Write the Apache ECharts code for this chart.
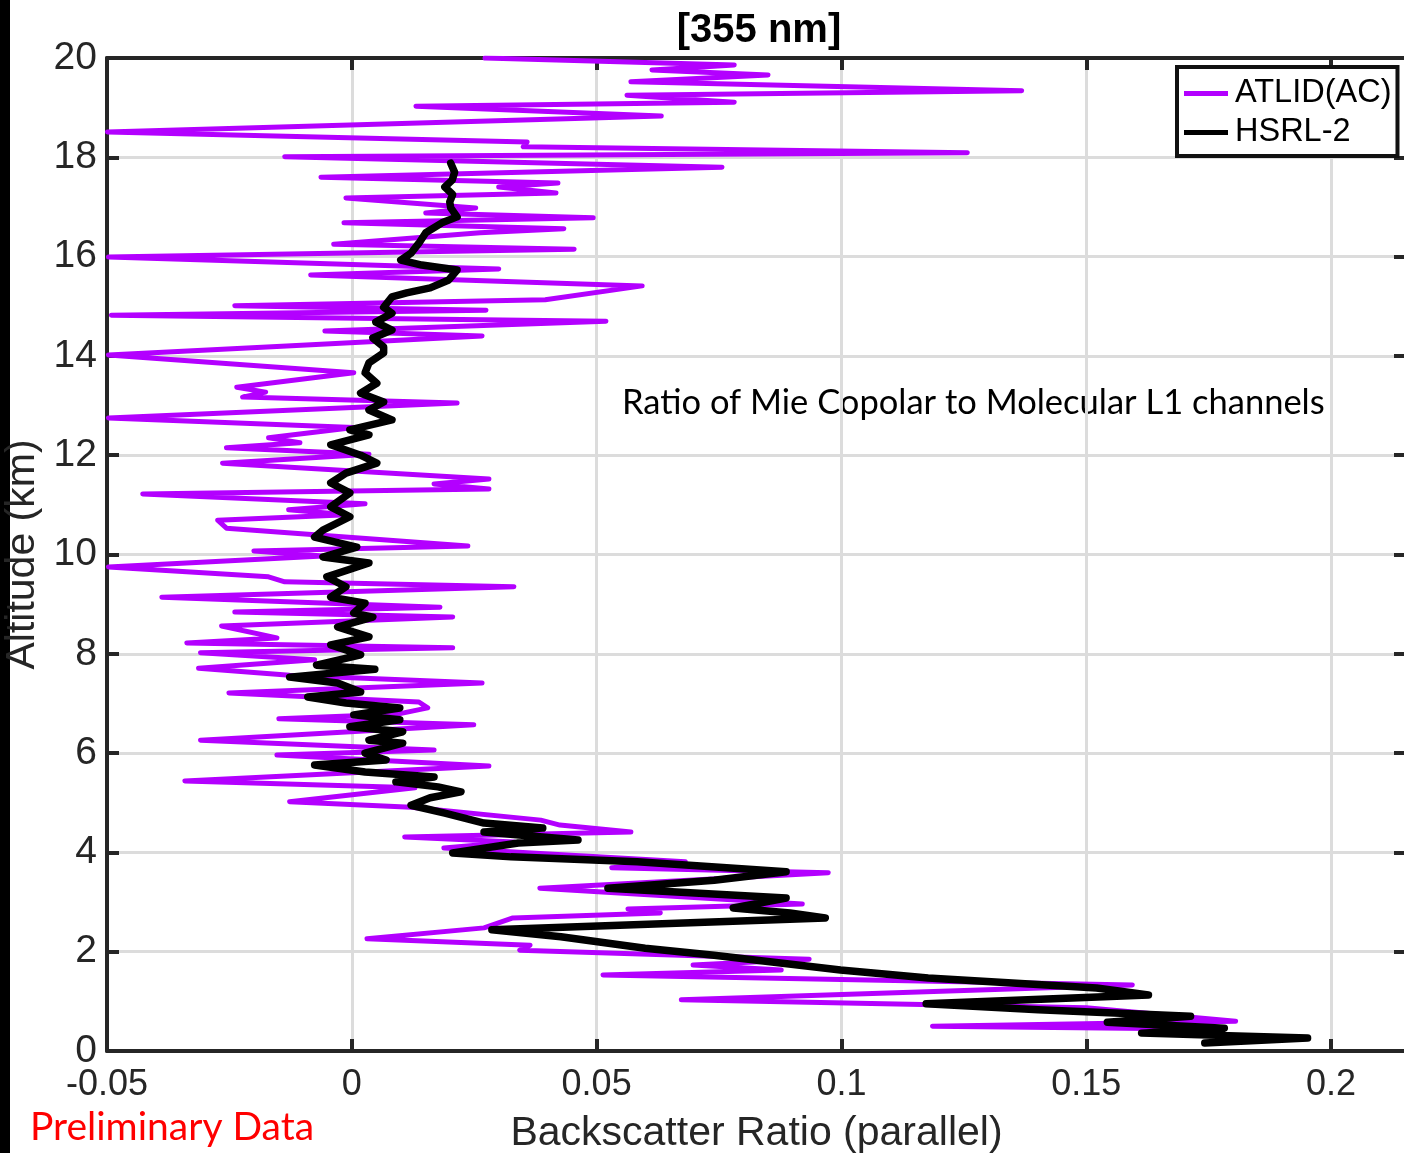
<!DOCTYPE html>
<html>
<head>
<meta charset="utf-8">
<script src="https://cdn.jsdelivr.net/npm/echarts@6/dist/echarts.min.js"></script>
<style>
html,body{margin:0;padding:0;background:#fff;overflow:hidden;}
#chart{width:1404px;height:1153px;}
</style>
</head>
<body>
<div id="chart"></div>
<script>
// ATLID(AC) profile: altitude (km) and backscatter ratio (parallel)
var atlidAlt = [20.0,19.86,19.76,19.66,19.52,19.34,19.25,19.11,19.03,18.83,18.51,18.31,18.21,18.09,18.01,17.80,17.60,17.48,17.40,17.28,17.18,16.98,16.88,16.78,16.68,16.56,16.48,16.25,16.15,15.99,15.75,15.63,15.41,15.13,15.01,14.92,14.82,14.70,14.50,14.40,14.20,14.02,13.66,13.37,13.27,13.17,13.05,12.75,12.56,12.35,12.25,12.15,12.02,11.84,11.52,11.42,11.32,11.22,11.02,10.90,10.80,10.69,10.53,10.17,10.07,9.97,9.75,9.55,9.45,9.35,9.14,8.94,8.84,8.74,8.56,8.32,8.22,8.12,8.02,7.88,7.71,7.57,7.41,7.21,7.03,6.91,6.79,6.69,6.57,6.26,6.06,5.96,5.74,5.44,5.30,5.02,4.91,4.65,4.55,4.41,4.31,4.21,4.09,3.81,3.69,3.59,3.28,2.96,2.86,2.78,2.68,2.48,2.26,2.13,2.03,1.85,1.73,1.63,1.53,1.33,1.03,0.87,0.60,0.50,0.44,0.36];
var atlidRatio = [0.0272,0.0781,0.0613,0.0850,0.0570,0.1368,0.0562,0.0781,0.0131,0.0632,-0.0499,0.0358,0.0350,0.1257,-0.0137,0.0756,-0.0063,0.0421,0.0300,0.0417,-0.0012,0.0253,0.0151,0.0493,-0.0016,0.0433,0.0262,-0.0037,0.0454,-0.0497,0.0300,-0.0084,0.0593,0.0395,-0.0239,0.0274,-0.0491,0.0519,-0.0055,0.0266,-0.0133,-0.0497,0.0004,-0.0235,-0.0176,-0.0223,0.0215,-0.0497,0.0004,-0.0170,-0.0106,-0.0256,0.0035,-0.0264,0.0280,0.0168,0.0280,-0.0427,0.0027,-0.0129,-0.0010,-0.0274,-0.0256,0.0237,-0.0200,-0.0059,-0.0497,-0.0170,-0.0137,0.0331,-0.0388,0.0180,-0.0239,0.0206,-0.0266,-0.0153,-0.0337,0.0206,-0.0309,-0.0076,-0.0313,-0.0127,0.0266,-0.0251,0.0137,0.0155,0.0096,-0.0149,0.0249,-0.0309,0.0168,-0.0153,0.0280,-0.0341,0.0129,-0.0127,0.0121,0.0386,0.0425,0.0570,0.0108,0.0331,0.0188,0.0681,0.0531,0.0973,0.0384,0.0920,0.0564,0.0630,0.0329,0.0270,0.0031,0.0364,0.0343,0.0934,0.0697,0.0877,0.0513,0.1594,0.0673,0.1500,0.1805,0.1186,0.1778,0.1760];

// HSRL-2 profile: altitude (km) and backscatter ratio (parallel)
var hsrlAlt = [17.88,17.85,17.70,17.54,17.40,17.25,17.10,16.98,16.80,16.68,16.48,16.27,16.07,15.93,15.83,15.73,15.53,15.37,15.27,15.19,14.98,14.86,14.68,14.52,14.36,14.18,14.06,13.86,13.66,13.45,13.25,13.07,12.91,12.71,12.51,12.41,12.21,12.00,11.84,11.64,11.44,11.24,10.96,10.76,10.49,10.35,10.15,9.95,9.83,9.55,9.35,9.14,9.02,8.82,8.74,8.54,8.34,8.18,7.98,7.77,7.69,7.53,7.41,7.23,7.13,7.01,6.91,6.77,6.67,6.53,6.43,6.26,6.20,6.00,5.86,5.76,5.62,5.52,5.42,5.32,5.22,5.10,4.95,4.79,4.59,4.49,4.41,4.25,4.19,3.99,3.91,3.81,3.61,3.44,3.28,3.08,2.88,2.78,2.68,2.44,2.30,2.07,1.93,1.63,1.47,1.27,1.13,0.95,0.83,0.70,0.58,0.46,0.36,0.26,0.16];
var hsrlRatio = [0.0202,0.0198,0.0210,0.0205,0.0190,0.0206,0.0200,0.0202,0.0215,0.0184,0.0151,0.0137,0.0121,0.0100,0.0143,0.0215,0.0198,0.0160,0.0112,0.0082,0.0065,0.0082,0.0049,0.0082,0.0043,0.0065,0.0065,0.0035,0.0027,0.0051,0.0018,0.0065,0.0035,0.0082,-0.0004,0.0035,-0.0043,0.0018,0.0051,-0.0012,-0.0043,-0.0004,-0.0043,-0.0004,-0.0059,-0.0076,0.0010,-0.0059,0.0035,-0.0051,-0.0012,-0.0043,0.0027,0.0004,0.0043,-0.0029,0.0035,-0.0043,0.0018,-0.0072,0.0047,-0.0127,-0.0029,0.0018,-0.0090,-0.0012,0.0098,0.0004,0.0098,-0.0004,0.0104,0.0035,0.0104,0.0027,0.0070,-0.0076,0.0027,0.0168,0.0090,0.0176,0.0223,0.0160,0.0121,0.0190,0.0270,0.0390,0.0270,0.0462,0.0340,0.0206,0.0325,0.0583,0.0887,0.0740,0.0523,0.0887,0.0779,0.0895,0.0967,0.0286,0.0427,0.0599,0.0740,0.0998,0.1177,0.1521,0.1627,0.1173,0.1402,0.1713,0.1543,0.1782,0.1613,0.1952,0.1742];

var xTicks = [-0.05, 0, 0.05, 0.1, 0.15, 0.2];
var yTicks = [0, 2, 4, 6, 8, 10, 12, 14, 16, 18, 20];

function pairs(xs, ys){ return ys.map(function(y,i){ return [xs[i], y]; }); }

var axisColor = '#262626';
var font = 'Liberation Sans, Arial, Helvetica, sans-serif';
var chart = echarts.init(document.getElementById('chart'), null, {renderer:'canvas', width:1404, height:1153});
chart.setOption({
  animation:false,
  backgroundColor:'#ffffff',
  title:{
    text:'[355 nm]', left:754, top:6, textAlign:'center',
    textStyle:{fontFamily:font, fontWeight:'bold', fontSize:40, color:'#000'}
  },
  legend:{
    orient:'vertical', left:1177, top:67,
    backgroundColor:'#fff', borderColor:'#111', borderWidth:4,
    padding:[10,6,7,7], itemGap:6, itemWidth:44, itemHeight:5, icon:'rect',
    textStyle:{fontFamily:font, fontSize:32.5, color:'#000', padding:[0,0,0,2]},
    data:['ATLID(AC)','HSRL-2']
  },
  grid:{left:107, right:-2, top:58, bottom:102, containLabel:false, outerBoundsMode:'none'},
  xAxis:[{
    type:'value', min:-0.05, max:0.2153, interval:0.05,
    name:'Backscatter Ratio (parallel)', nameLocation:'middle', nameGap:62,
    nameTextStyle:{fontFamily:font, fontSize:41, color:axisColor},
    axisLine:{show:true, onZero:false, lineStyle:{color:axisColor, width:4}},
    axisTick:{show:true, inside:true, length:12, lineStyle:{color:axisColor, width:4}},
    axisLabel:{fontFamily:font, fontSize:36, color:axisColor, margin:16, showMaxLabel:false,
      formatter:function(v){ var r = Math.round(v*100)/100; return xTicks.indexOf(r) >= 0 ? String(r) : ''; }},
    splitLine:{show:true, lineStyle:{color:'#dcdcdc', width:3}}
  },{
    type:'value', position:'top', min:-0.05, max:0.2153, interval:0.05,
    axisLine:{show:true, onZero:false, lineStyle:{color:axisColor, width:4}},
    axisTick:{show:true, inside:true, length:12, lineStyle:{color:axisColor, width:4}},
    axisLabel:{show:false}, splitLine:{show:false}
  }],
  yAxis:[{
    type:'value', min:0, max:20, interval:2,
    name:'Altitude (km)', nameLocation:'middle', nameGap:51, nameRotate:90,
    nameTextStyle:{fontFamily:font, fontSize:41, color:axisColor},
    axisLine:{show:true, onZero:false, lineStyle:{color:axisColor, width:4}},
    axisTick:{show:true, inside:true, length:12, lineStyle:{color:axisColor, width:4}},
    axisLabel:{fontFamily:font, fontSize:39, color:axisColor, margin:10,
      formatter:function(v){ return yTicks.indexOf(v) >= 0 ? String(v) : ''; }},
    splitLine:{show:true, lineStyle:{color:'#dcdcdc', width:3}}
  },{
    type:'value', position:'right', min:0, max:20, interval:2,
    axisLine:{show:true, onZero:false, lineStyle:{color:axisColor, width:4}},
    axisTick:{show:true, inside:true, length:12, lineStyle:{color:axisColor, width:4}},
    axisLabel:{show:false}, splitLine:{show:false}
  }],
  series:[{
    name:'ATLID(AC)', type:'line', xAxisIndex:0, yAxisIndex:0,
    data:pairs(atlidRatio, atlidAlt), showSymbol:false, symbol:'none',
    lineStyle:{color:'#b300ff', width:5, join:'round', cap:'round'}, itemStyle:{color:'#b300ff'}, z:2
  },{
    name:'HSRL-2', type:'line', xAxisIndex:0, yAxisIndex:0,
    data:pairs(hsrlRatio, hsrlAlt), showSymbol:false, symbol:'none',
    lineStyle:{color:'#000000', width:7.5, join:'round', cap:'round'}, itemStyle:{color:'#000000'}, z:3
  }],
  graphic:[
    {type:'rect', left:0, top:0, shape:{width:10, height:1153}, style:{fill:'#000'}},
    {type:'text', left:622, top:385, style:{text:'Ratio of Mie Copolar to Molecular L1 channels', fill:'#000', font:'34.5px Lato, "Open Sans", sans-serif'}},
    {type:'text', left:30, top:1108, style:{text:'Preliminary Data', fill:'#ff0000', font:'39px Lato, "Open Sans", sans-serif'}}
  ]
});
</script>
</body>
</html>
